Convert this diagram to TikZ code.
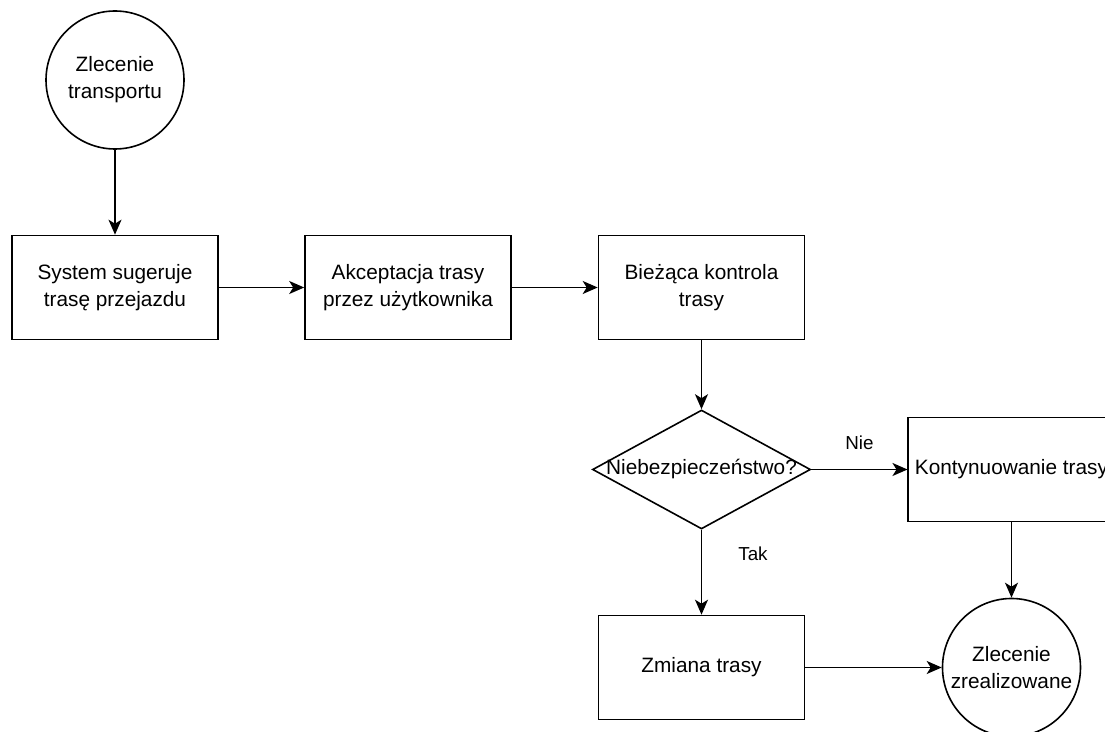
\documentclass[tikz,border=0pt]{standalone}
\usepackage{fontspec}
\setmainfont{Liberation Sans}
\usetikzlibrary{positioning,shapes.geometric,arrows.meta}

\begin{document}
\begin{tikzpicture}[x=0.5pt,y=-0.5pt,line width=0.8pt,
    >={Stealth[length=7.5pt,width=6.5pt,inset=2pt]},
    every node/.style={on grid},
    krok/.style={draw,minimum width=103pt,minimum height=52pt,align=center,
      font=\fontsize{10.4}{13.5}\selectfont},
    zdarzenie/.style={circle,draw,minimum size=69pt,inner sep=0pt,align=center,
      font=\fontsize{10.4}{13.5}\selectfont},
    decyzja/.style={diamond,draw,minimum width=109pt,minimum height=59.5pt,inner sep=0pt,
      font=\fontsize{10.4}{13.5}\selectfont},
    etykieta/.style={font=\fontsize{9.4}{11}\selectfont}]
    \useasboundingbox (0,0) rectangle (1105,732);
    \clip (0,0) rectangle (1105,732);
    \node[zdarzenie] (start) at (115,80) {Zlecenie\\transportu};
    \node[krok,below=103.75pt of start] (sugestia) {System sugeruje\\trasę przejazdu};
    \node[krok,right=146.5pt of sugestia] (akceptacja) {Akceptacja trasy\\przez użytkownika};
    \node[krok,right=146.75pt of akceptacja] (kontrola) {Bieżąca kontrola\\trasy};
    \node[decyzja,below=91pt of kontrola] (ryzyko) {\makebox[0pt]{Niebezpieczeństwo?}};
    \node[krok,right=155pt of ryzyko] (kontynuacja) {Kontynuowanie trasy};
    \node[krok,below=99pt of ryzyko] (zmiana) {Zmiana trasy};
    \node[zdarzenie,right=155pt of zmiana] (koniec) {Zlecenie\\zrealizowane};
    \draw[->] (start) -- (sugestia);
    \draw[->] (sugestia) -- (akceptacja);
    \draw[->] (akceptacja) -- (kontrola);
    \draw[->] (kontrola) -- (ryzyko);
    \draw[->] (ryzyko) -- node[etykieta,yshift=13.5pt] (nie) {Nie} (kontynuacja);
    \draw[->] (ryzyko) -- node[etykieta,pos=0.28,xshift=25.75pt] (tak) {Tak} (zmiana);
    \draw[->] (kontynuacja) -- (koniec);
    \draw[->] (zmiana) -- (koniec);
  \end{tikzpicture}
\end{document}
